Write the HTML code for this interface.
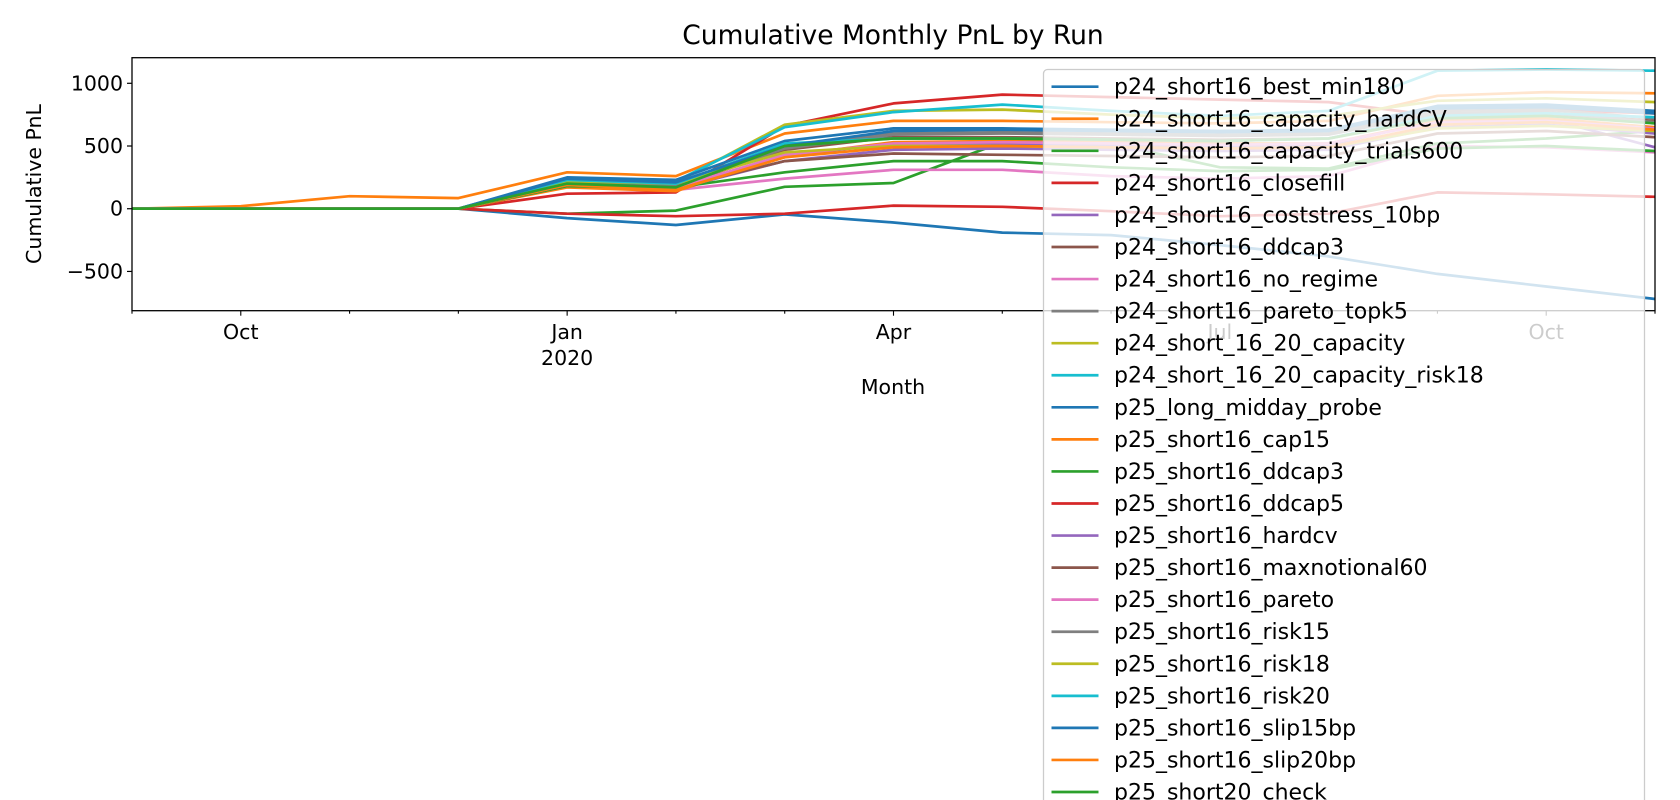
<!DOCTYPE html>
<html><head><meta charset="utf-8"><style>
html,body{margin:0;padding:0;background:#fff;}
svg{display:block;font-family:"DejaVu Sans","Liberation Sans",sans-serif;}
</style></head><body>
<svg id="chart" width="1680" height="800" viewBox="0 0 1680 800" xmlns="http://www.w3.org/2000/svg">
<text x="893" y="44" font-size="26.5" text-anchor="middle" fill="#000">Cumulative Monthly PnL by Run</text>
<g id="plot"></g>
<g id="axes"></g>
<g id="legend"></g>
</svg>
<script>
const months = ["2019-09","2019-10","2019-11","2019-12","2020-01","2020-02","2020-03","2020-04","2020-05","2020-06","2020-07","2020-08","2020-09","2020-10","2020-11"];
const yTicks = [-500,0,500,1000];
const xTickLabels = [[1,"Oct",""],[4,"Jan","2020"],[7,"Apr",""],[10,"Jul",""],[13,"Oct",""]];
const seriesNames = ["p24_short16_best_min180","p24_short16_capacity_hardCV","p24_short16_capacity_trials600","p24_short16_closefill","p24_short16_coststress_10bp","p24_short16_ddcap3","p24_short16_no_regime","p24_short16_pareto_topk5","p24_short_16_20_capacity","p24_short_16_20_capacity_risk18","p25_long_midday_probe","p25_short16_cap15","p25_short16_ddcap3","p25_short16_ddcap5","p25_short16_hardcv","p25_short16_maxnotional60","p25_short16_pareto","p25_short16_risk15","p25_short16_risk18","p25_short16_risk20","p25_short16_slip15bp","p25_short16_slip20bp","p25_short20_check"];
const s0 = [0,0,0,0,-75,-130,-45,-110,-190,-210,-290,-380,-520,-620,-720];
const s1 = [0,20,100,85,290,260,600,700,700,690,680,700,900,930,920];
const s2 = [0,0,0,0,-40,-15,175,205,530,520,330,320,520,560,620];
const s3 = [0,0,0,0,120,130,660,840,910,890,870,850,740,790,760];
const s4 = [0,0,0,0,200,160,420,520,520,500,500,510,700,720,490];
const s5 = [0,0,0,0,210,180,470,570,570,560,550,560,740,760,700];
const s6 = [0,0,0,0,180,150,240,310,310,260,240,260,500,490,450];
const s7 = [0,0,0,0,220,190,500,600,610,600,590,600,780,790,720];
const s8 = [0,0,0,0,230,210,670,780,790,750,720,740,860,880,850];
const s9 = [0,0,0,0,240,220,650,770,830,780,740,780,1100,1110,1100];
const s10 = [0,0,0,0,250,230,540,640,640,630,620,630,820,830,780];
const s11 = [0,0,0,0,170,140,420,530,540,530,520,520,700,720,650];
const s12 = [0,0,0,0,180,170,290,380,380,330,300,310,480,500,460];
const s13 = [0,0,0,0,-40,-60,-40,25,15,-20,-60,-40,130,115,95];
const s14 = [0,0,0,0,190,160,380,470,480,470,460,470,650,670,600];
const s15 = [0,0,0,0,200,170,380,440,430,420,410,420,600,620,570];
const s16 = [0,0,0,0,200,170,430,520,530,520,510,520,690,700,640];
const s17 = [0,0,0,0,210,180,480,590,600,590,580,590,760,770,690];
const s18 = [0,0,0,0,220,200,450,500,500,490,480,490,640,660,620];
const s19 = [0,0,0,0,230,200,520,560,560,550,540,560,740,760,730];
const s20 = [0,0,0,0,240,210,500,620,630,620,610,620,800,810,760];
const s21 = [0,0,0,0,190,150,410,490,500,490,480,490,670,690,630];
const s22 = [0,0,0,0,200,170,500,560,560,550,540,560,720,740,680];
const seriesValues = [s0,s1,s2,s3,s4,s5,s6,s7,s8,s9,s10,s11,s12,s13,s14,s15,s16,s17,s18,s19,s20,s21,s22];
const colors = ["#1f77b4","#ff7f0e","#2ca02c","#d62728","#9467bd","#8c564b","#e377c2","#7f7f7f","#bcbd22","#17becf"];

const NS="http://www.w3.org/2000/svg";
const L=132,R=1655,T=57.7,B=310.7;
const yMin=-813,yMax=1204;
function xs(i){return L+(R-L)*i/(months.length-1);}
function ys(v){return B-(v-yMin)/(yMax-yMin)*(B-T);}
function mk(tag,attrs,parent){const e=document.createElementNS(NS,tag);for(const k in attrs)e.setAttribute(k,attrs[k]);parent.appendChild(e);return e;}

const plot=document.getElementById('plot');
const cp=mk('clipPath',{id:'clip'},plot);
mk('rect',{x:L,y:T,width:R-L,height:B-T},cp);
const lines=mk('g',{'clip-path':'url(#clip)'},plot);
seriesValues.forEach((vals,si)=>{
  const d=vals.map((v,i)=>(i?'L':'M')+xs(i).toFixed(1)+' '+ys(v).toFixed(1)).join(' ');
  const p=mk('path',{d:d,fill:'none',stroke:colors[si%10],'stroke-width':2.7,'stroke-linejoin':'round'},lines);
  
  
});

const axes=document.getElementById('axes');
const frame=mk('rect',{x:L,y:T,width:R-L,height:B-T,fill:'none',stroke:'#000','stroke-width':1.3},axes);


yTicks.forEach(v=>{
  const y=ys(v);
  mk('line',{x1:L-5,x2:L,y1:y,y2:y,stroke:'#000','stroke-width':1.2},axes);
  const t=mk('text',{x:L-9,y:y+7,'font-size':20.5,'text-anchor':'end'},axes);
  t.textContent=v<0?'\u2212'+Math.abs(v):String(v);
  
  
});
months.forEach((m,i)=>{
  const x=xs(i);
  const major=xTickLabels.some(t=>t[0]===i);
  mk('line',{x1:x,x2:x,y1:B,y2:B+(major?5:3),stroke:'#000','stroke-width':1.1},axes);
});
xTickLabels.forEach(t=>{
  const x=xs(t[0]);
  const a=mk('text',{x:x,y:339,'font-size':20.5,'text-anchor':'middle'},axes);
  a.textContent=t[1];
  
  
  if(t[2]){
    const b=mk('text',{x:x,y:365,'font-size':20.5,'text-anchor':'middle'},axes);
    b.textContent=t[2];
    
    
  }
});
const xl=mk('text',{x:893,y:394,'font-size':20.5,'text-anchor':'middle'},axes);
xl.textContent='Month';


const yl=mk('text',{x:0,y:0,'font-size':20.5,'text-anchor':'middle',transform:'translate(41,184) rotate(-90)'},axes);
yl.textContent='Cumulative PnL';



const lg=document.getElementById('legend');


mk('rect',{x:1043.5,y:69.5,width:601,height:760,rx:4,fill:'#fff','fill-opacity':0.8,stroke:'#cccccc','stroke-width':1.3},lg);
seriesNames.forEach((n,i)=>{
  const y=86.7+i*32.06;
  const g=mk('g',{},lg);
  
  
  mk('line',{x1:1051.5,x2:1098.5,y1:y,y2:y,stroke:colors[i%10],'stroke-width':2.7},g);
  const t=mk('text',{x:1114,y:y+7.5,'font-size':22},g);
  t.textContent=n;
});
</script>
</body></html>
